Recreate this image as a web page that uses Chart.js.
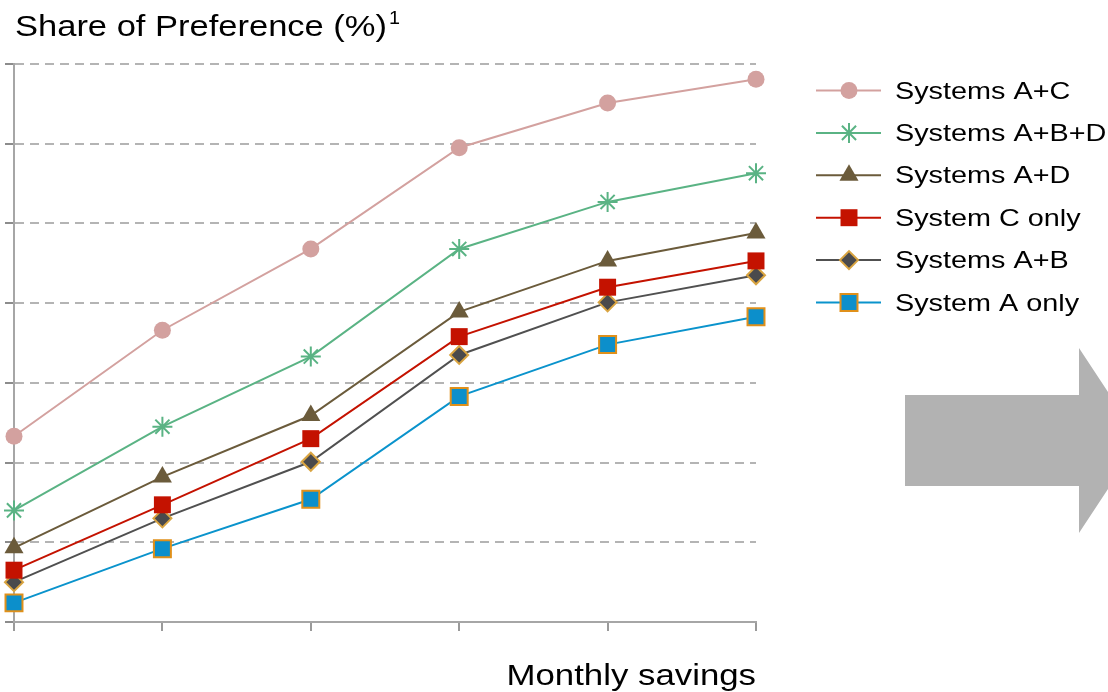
<!DOCTYPE html>
<html lang="en">

<head>
  <meta charset="UTF-8">
  <title>Share of Preference</title>
  <script src="https://cdn.jsdelivr.net/npm/chart.js"></script>
  <style>
    html, body { margin: 0; padding: 0; background: #fff; }
    #box { width: 1108px; height: 692px; position: relative; }
  </style>
</head>

<body>
  <div id="box">
    <canvas id="grafico"></canvas>
  </div>
  <script>
    // data (y scale 0..70, no tick labels shown)
    const categories = ['1', '2', '3', '4', '5', '6'];
    const yTicks = [0, 10, 20, 30, 40, 50, 60, 70];
    const seriesNames = ['Systems A+C', 'Systems A+B+D', 'Systems A+D', 'System C only', 'Systems A+B', 'System A only'];
    const sysAC = [23.3, 36.6, 46.8, 59.5, 65.1, 68.1];
    const sysABD = [14.0, 24.5, 33.3, 46.8, 52.7, 56.3];
    const sysAD = [9.3, 18.2, 25.9, 38.9, 45.3, 48.8];
    const sysConly = [6.5, 14.7, 23.0, 35.8, 42.0, 45.3];
    const sysAB = [5.0, 13.0, 20.1, 33.5, 40.1, 43.5];
    const sysAonly = [2.4, 9.2, 15.4, 28.3, 34.8, 38.3];

    const FONT = '"Liberation Sans", Arial, sans-serif';

    // line colour, marker style, marker fill, marker border, radius, border width
    const styles = [
      { line: '#D3A19F', point: 'circle', fill: '#D3A19F', border: '#D3A19F', r: 8.5, bw: 0 },
      { line: '#5AB384', point: 'star', fill: '#5AB384', border: '#5AB384', r: 10, bw: 2 },
      { line: '#6B5B3B', point: 'triangle', fill: '#6B5B3B', border: '#6B5B3B', r: 11, bw: 0 },
      { line: '#C41200', point: 'rect', fill: '#C41200', border: '#C41200', r: 12, bw: 0 },
      { line: '#505050', point: 'rectRot', fill: '#4A4A4C', border: '#D9A440', r: 9, bw: 2 },
      { line: '#0A93CC', point: 'rect', fill: '#0C8FCB', border: '#E0901A', r: 12, bw: 2 }
    ];
    const allValues = [sysAC, sysABD, sysAD, sysConly, sysAB, sysAonly];

    const datasets = allValues.map((vals, i) => ({
      label: seriesNames[i],
      data: vals,
      borderColor: styles[i].line,
      borderWidth: 2,
      pointStyle: styles[i].point,
      pointRadius: styles[i].r,
      pointHoverRadius: styles[i].r,
      pointBackgroundColor: styles[i].fill,
      pointBorderColor: styles[i].border,
      pointBorderWidth: styles[i].bw,
      tension: 0,
      clip: false
    }));

    function stretchedText(ctx, text, x, y, size, sx) {
      ctx.save();
      ctx.font = size + 'px ' + FONT;
      ctx.fillStyle = '#000';
      ctx.textBaseline = 'alphabetic';
      ctx.translate(x, y);
      ctx.scale(sx, 1);
      ctx.fillText(text, 0, 0);
      const w = ctx.measureText(text).width * sx;
      ctx.restore();
      return w;
    }

    // titles, legend and the grey arrow
    const extras = {
      id: 'extras',
      afterDraw(chart) {
        const ctx = chart.ctx;
        const area = chart.chartArea;

        // y title with superscript
        const w = stretchedText(ctx, 'Share of Preference (%)', 15, 36, 30, 1.15);
        stretchedText(ctx, '1', 15 + w + 2, 24, 18, 1.1);

        // x title, right aligned to the axis end
        ctx.save();
        ctx.font = '29px ' + FONT;
        const xw = ctx.measureText('Monthly savings').width * 1.2;
        ctx.restore();
        stretchedText(ctx, 'Monthly savings', area.right - xw, 685, 29, 1.2);

        // legend
        const lx1 = 816, lx2 = 881, mx = 849, tx = 895;
        chart.data.datasets.forEach((ds, i) => {
          const y = 90.5 + i * 42.4;
          ctx.save();
          ctx.strokeStyle = ds.borderColor;
          ctx.lineWidth = 2;
          ctx.beginPath();
          ctx.moveTo(lx1, y);
          ctx.lineTo(lx2, y);
          ctx.stroke();
          ctx.fillStyle = ds.pointBackgroundColor;
          ctx.strokeStyle = ds.pointBorderColor;
          ctx.lineWidth = ds.pointBorderWidth;
          Chart.helpers.drawPoint(ctx, {
            pointStyle: ds.pointStyle,
            radius: ds.pointRadius,
            rotation: 0,
            borderWidth: ds.pointBorderWidth
          }, mx, y);
          ctx.restore();
          stretchedText(ctx, ds.label, tx, y + 8, 24, 1.2);
        });

        // arrow
        ctx.save();
        ctx.fillStyle = '#B2B2B2';
        ctx.beginPath();
        ctx.moveTo(905, 395);
        ctx.lineTo(1079, 395);
        ctx.lineTo(1079, 348);
        ctx.lineTo(1140, 440.5);
        ctx.lineTo(1079, 533);
        ctx.lineTo(1079, 486);
        ctx.lineTo(905, 486);
        ctx.closePath();
        ctx.fill();
        ctx.restore();
      }
    };

    const ctx = document.getElementById('grafico').getContext('2d');
    const myChart = new Chart(ctx, {
      type: 'line',
      data: { labels: categories, datasets: datasets },
      options: {
        responsive: true,
        maintainAspectRatio: false,
        animation: false,
        layout: { padding: { left: 5, top: 64, right: 352, bottom: 61 } },
        plugins: {
          legend: { display: false },
          tooltip: { enabled: false }
        },
        scales: {
          x: {
            offset: false,
            grid: { drawOnChartArea: false, drawTicks: true, tickLength: 9, color: '#9A9A9A', tickColor: '#9A9A9A', lineWidth: 2 },
            border: { display: true, color: '#A6A6A6', width: 2 },
            ticks: { display: false }
          },
          y: {
            min: yTicks[0],
            max: yTicks[yTicks.length - 1],
            afterBuildTicks: (scale) => { scale.ticks = yTicks.map(v => ({ value: v })); },
            grid: { color: '#B4B4B4', lineWidth: 2, drawTicks: true, tickLength: 9, tickColor: '#8C8C8C' },
            border: { display: true, color: '#A6A6A6', width: 2, dash: [9, 6] },
            ticks: { display: false }
          }
        }
      },
      plugins: [extras]
    });
  </script>
</body>

</html>
